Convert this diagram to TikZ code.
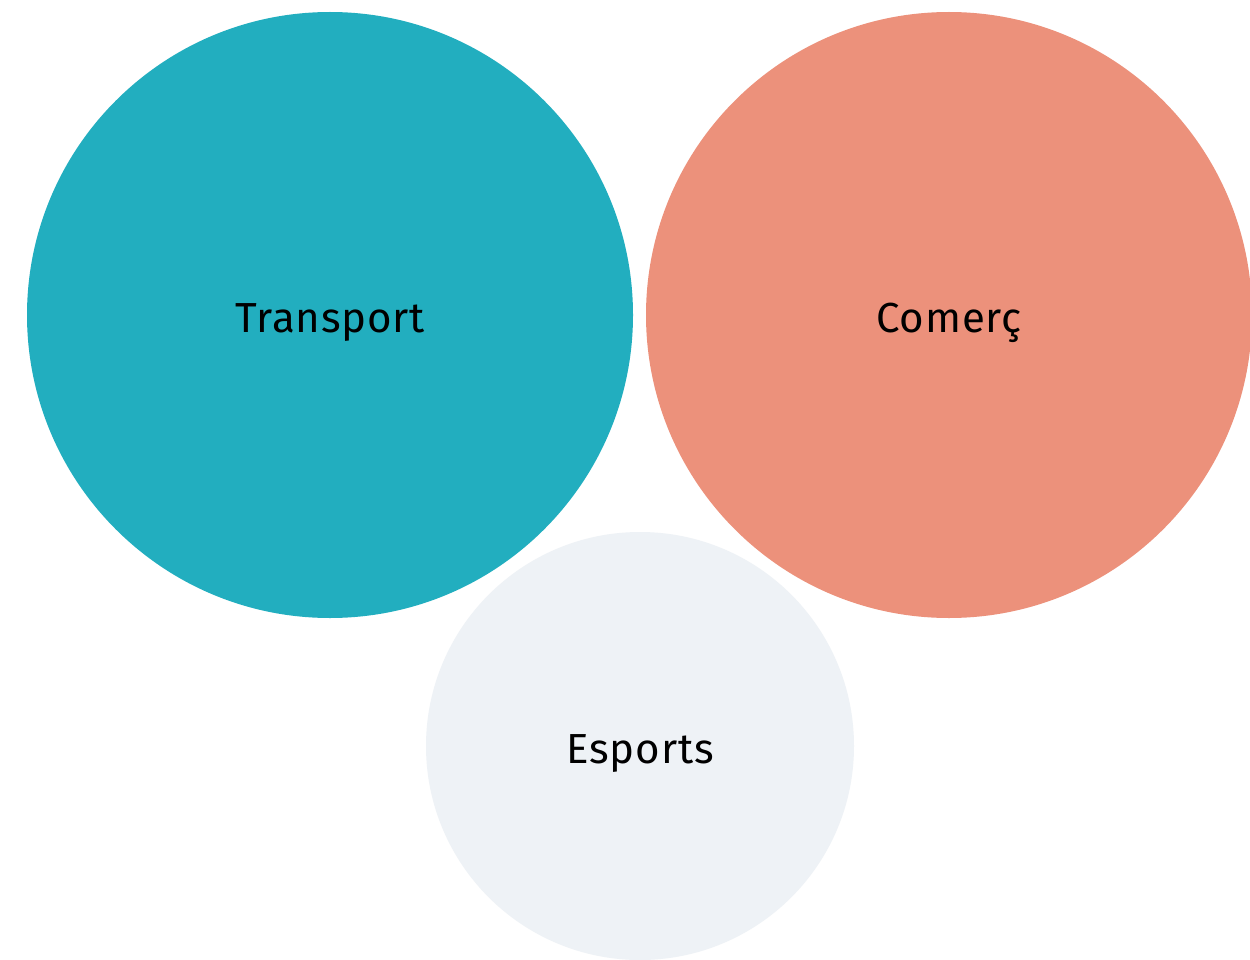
\documentclass[tikz,border=0pt]{standalone}
\usepackage{fontspec}
\setmainfont{Fira Sans}[LetterSpace=2]
\definecolor{teal}{HTML}{22AEBF}
\definecolor{salmon}{HTML}{EC917B}
\definecolor{pale}{HTML}{EEF2F6}
\begin{document}
\begin{tikzpicture}[x=1pt,y=-1pt,
  bubble/.style={circle,inner sep=0pt,outer sep=0pt,draw=none},
  lbl/.style={font=\fontsize{42}{50}\selectfont,text=black,anchor=base,yshift=-17pt,inner sep=0pt}]
\useasboundingbox (0,0) rectangle (1250,960);
\fill[white] (0,0) rectangle (1250,960);
\begin{scope}
\clip (0,0) rectangle (1250,960);
\node[bubble,fill=teal,minimum size=606pt] (transport) at (330,315) {};
\node[bubble,fill=salmon,minimum size=606pt] (comerc) at (949,315) {};
\node[bubble,fill=pale,minimum size=428pt] (esports) at (640,746) {};
\end{scope}
\node[lbl] at (transport.center) {Transport};
\node[lbl] at (comerc.center) {Comerç};
\node[lbl] at (esports.center) {Esports};
\end{tikzpicture}
\end{document}
